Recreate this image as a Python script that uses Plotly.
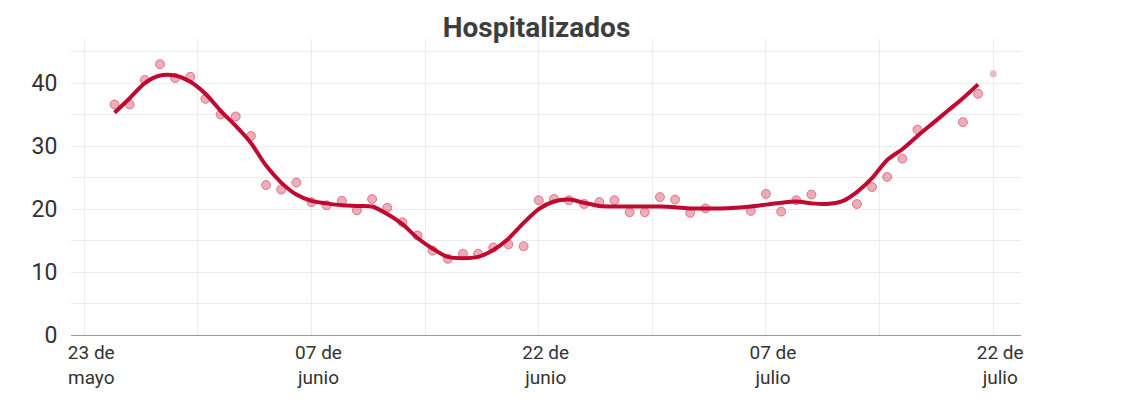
import plotly.graph_objects as go
import pandas as pd

# ---- data ----
point_dates = [
    "2020-05-25", "2020-05-26", "2020-05-27", "2020-05-28", "2020-05-29", "2020-05-30",
    "2020-05-31", "2020-06-01", "2020-06-02", "2020-06-03", "2020-06-04", "2020-06-05",
    "2020-06-06", "2020-06-07", "2020-06-08", "2020-06-09", "2020-06-10", "2020-06-11",
    "2020-06-12", "2020-06-13", "2020-06-14", "2020-06-15", "2020-06-16", "2020-06-17",
    "2020-06-18", "2020-06-19", "2020-06-20", "2020-06-21", "2020-06-22", "2020-06-23",
    "2020-06-24", "2020-06-25", "2020-06-26", "2020-06-27", "2020-06-28", "2020-06-29",
    "2020-06-30", "2020-07-01", "2020-07-02", "2020-07-03", "2020-07-06", "2020-07-07",
    "2020-07-08", "2020-07-09", "2020-07-10", "2020-07-13", "2020-07-14", "2020-07-15",
    "2020-07-16", "2020-07-17", "2020-07-20", "2020-07-21",
]
point_values = [
    36.6, 36.6, 40.5, 43.0, 40.8, 41.0,
    37.5, 35.0, 34.7, 31.6, 23.8, 23.1,
    24.2, 21.1, 20.6, 21.3, 19.8, 21.6,
    20.2, 17.9, 15.8, 13.4, 12.1, 12.9,
    12.9, 13.9, 14.4, 14.1, 21.4, 21.6,
    21.4, 20.8, 21.1, 21.4, 19.5, 19.5,
    21.9, 21.5, 19.4, 20.1, 19.7, 22.4,
    19.6, 21.4, 22.3, 20.8, 23.5, 25.1,
    28.0, 32.6, 33.8, 38.3,
]
last_date = ["2020-07-22"]
last_value = [41.5]

trend_dates = pd.date_range("2020-05-25", "2020-07-21", freq="D").strftime("%Y-%m-%d").tolist()
trend_values = [
    35.3, 37.6, 40.0, 41.2, 41.2, 40.2, 38.3, 35.6, 33.2, 30.5,
    26.9, 24.2, 22.3, 21.3, 20.9, 20.6, 20.5, 20.4, 19.2, 17.6,
    15.4, 13.7, 12.4, 12.2, 12.4, 13.5, 15.3, 17.8, 20.0, 21.2,
    21.5, 21.0, 20.5, 20.4, 20.4, 20.4, 20.4, 20.3, 20.1, 20.1,
    20.1, 20.2, 20.4, 20.7, 21.0, 21.2, 20.9, 20.8, 21.2, 22.7,
    24.9, 27.8, 29.5, 31.6, 33.6, 35.6, 37.6, 39.8,
]

x_tick_vals = ["2020-05-23", "2020-06-07", "2020-06-22", "2020-07-07", "2020-07-22"]
x_tick_text = ["23 de<br>mayo", "07 de<br>junio", "22 de<br>junio", "07 de<br>julio", "22 de<br>julio"]
x_minor_vals = ["2020-05-30 12:00", "2020-06-14 12:00", "2020-06-29 12:00", "2020-07-14 12:00"]
y_tick_vals = [0, 10, 20, 30, 40]
y_tick_text = ["0", "10", "20", "30", "40"]

title_text = "Hospitalizados"

RED = "#c1092f"
GRID = "#ececec"
FONT = "Roboto, 'Liberation Sans', sans-serif"

fig = go.Figure()
fig.add_trace(go.Scatter(
    x=point_dates, y=point_values, mode="markers",
    marker=dict(size=9, color="rgba(205,30,65,0.36)",
                line=dict(color="rgba(205,30,65,0.5)", width=1)),
    hoverinfo="x+y", showlegend=False,
))
fig.add_trace(go.Scatter(
    x=last_date, y=last_value, mode="markers",
    marker=dict(size=7, color="rgba(205,30,65,0.3)", line=dict(width=0)),
    showlegend=False,
))
fig.add_trace(go.Scatter(
    x=trend_dates, y=trend_values, mode="lines",
    line=dict(color=RED, width=4, shape="spline", smoothing=0.8),
    showlegend=False,
))

fig.update_layout(
    width=1144, height=404,
    margin=dict(l=71, r=123, t=39, b=69),
    paper_bgcolor="white", plot_bgcolor="white",
    font=dict(family=FONT, color="#333333"),
    title=dict(text="<b>" + title_text + "</b>", x=(536.5 - 71) / 950, xref="paper",
               xanchor="center", y=1 - 27 / 404, yref="container", yanchor="middle",
               font=dict(family=FONT, size=28, color="#3d3d3d")),
    xaxis=dict(
        type="date", automargin=False,
        range=["2020-05-22 03:00", "2020-07-23 20:00"],
        tickmode="array", tickvals=x_tick_vals, ticktext=x_tick_text,
        tickfont=dict(size=19, color="#333333"),
        ticks="", ticklabelshift=7,
        showgrid=True, gridcolor=GRID, gridwidth=1,
        minor=dict(tickmode="array", tickvals=x_minor_vals, showgrid=True,
                   gridcolor=GRID, gridwidth=1, ticks=""),
        showline=True, linecolor="#999999", linewidth=1,
        zeroline=False, fixedrange=True,
    ),
    yaxis=dict(
        range=[0, 47], automargin=False,
        tickmode="array", tickvals=y_tick_vals, ticktext=y_tick_text,
        tickfont=dict(size=23, color="#333333"),
        ticks="outside", ticklen=8, tickcolor="rgba(0,0,0,0)",
        showgrid=True, gridcolor=GRID, gridwidth=1,
        minor=dict(dtick=5, showgrid=True, gridcolor=GRID, gridwidth=1, ticks=""),
        showline=False, zeroline=False, fixedrange=True,
    ),
)

fig.write_html("out.html")
